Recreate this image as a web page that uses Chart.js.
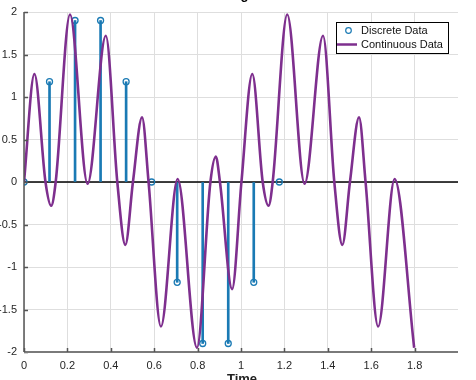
<!DOCTYPE html>
<html>
<head>
<meta charset="utf-8">
<script src="https://cdn.jsdelivr.net/npm/chart.js@4.4.1/dist/chart.umd.min.js"></script>
<style>
  html, body { margin: 0; padding: 0; background: #fff; }
  #wrap { position: relative; width: 476px; height: 380px; overflow: hidden; }
  #wrap canvas { position: absolute; left: 0; top: -14px; }
</style>
</head>
<body>
<div id="wrap"><canvas id="chart" width="476" height="400"></canvas></div>
<script>
'use strict';

const titleText = 'Aliasing Effect';
const xTitle = 'Time';
const seriesNames = ['Discrete Data', 'Continuous Data'];

// discrete samples (stems)
const sampleTimes = [0, 0.1176, 0.2353, 0.3529, 0.4706, 0.5882, 0.7059, 0.8235, 0.9412, 1.0588, 1.1765];
const sampleValues = [0, 1.18, 1.9, 1.9, 1.18, 0, -1.18, -1.9, -1.9, -1.18, 0];

// continuous curve: peaks, troughs and zero crossings
const curveTimes = [0, 0.048, 0.099, 0.125, 0.146, 0.212, 0.293, 0.377, 0.430, 0.467, 0.502, 0.544, 0.574,
    0.631, 0.708, 0.797, 0.859, 0.884, 0.903, 0.959, 1.002, 1.052, 1.100, 1.127, 1.146, 1.213, 1.293,
    1.378, 1.430, 1.467, 1.502, 1.544, 1.574, 1.632, 1.708, 1.798];
const curveValues = [0, 1.27, 0, -0.28, 0, 1.97, -0.02, 1.72, 0, -0.74, 0, 0.76, 0,
    -1.70, 0.035, -1.95, 0, 0.30, 0, -1.26, 0, 1.27, 0, -0.28, 0, 1.97, -0.02,
    1.72, 0, -0.74, 0, 0.76, 0, -1.70, 0.035, -1.95];

const xTicks = [0, 0.2, 0.4, 0.6, 0.8, 1, 1.2, 1.4, 1.6, 1.8];
const yTicks = [-2, -1.5, -1, -0.5, 0, 0.5, 1, 1.5, 2];

const colors = {
    stem: '#1a7ab4',
    curve: '#7e2f8e',
    grid: '#dedede',
    text: '#262626',
    axisLeft: '#555555',
    axisBottom: '#7a7a7a'
};
const fontFamily = "'Liberation Sans', Arial, sans-serif";

const decor = {
    id: 'decor',
    beforeDatasetsDraw(chart) {
        const { ctx, chartArea: a, scales: { y } } = chart;
        const y0 = y.getPixelForValue(0);
        ctx.save();
        ctx.strokeStyle = '#000';
        ctx.lineWidth = 1.3;
        ctx.beginPath();
        ctx.moveTo(a.left, y0);
        ctx.lineTo(a.right, y0);
        ctx.stroke();
        ctx.restore();
    },
    afterDraw(chart) {
        const { ctx, chartArea: a, scales: { x, y } } = chart;
        ctx.save();

        // axes with inward ticks
        ctx.strokeStyle = colors.axisLeft;
        ctx.lineWidth = 1.5;
        ctx.beginPath();
        ctx.moveTo(a.left, a.top);
        ctx.lineTo(a.left, a.bottom);
        yTicks.forEach(v => {
            const py = Math.round(y.getPixelForValue(v)) + 0.5;
            ctx.moveTo(a.left, py);
            ctx.lineTo(a.left + 4, py);
        });
        ctx.stroke();
        ctx.strokeStyle = colors.axisBottom;
        ctx.lineWidth = 2;
        ctx.beginPath();
        ctx.moveTo(a.left, a.bottom);
        ctx.lineTo(a.right, a.bottom);
        ctx.stroke();
        ctx.lineWidth = 1.5;
        ctx.strokeStyle = colors.axisLeft;
        ctx.beginPath();
        xTicks.forEach(v => {
            const px = Math.round(x.getPixelForValue(v)) + 0.5;
            ctx.moveTo(px, a.bottom);
            ctx.lineTo(px, a.bottom - 4);
        });
        ctx.stroke();

        // title (clipped at the top of the page) and x label
        const cx = (a.left + a.right) / 2;
        ctx.fillStyle = '#000';
        ctx.textAlign = 'center';
        ctx.textBaseline = 'alphabetic';
        ctx.font = 'bold 13px ' + fontFamily;
        ctx.fillText(titleText, cx + 2, 13);
        ctx.fillStyle = '#222';
        ctx.fillText(xTitle, cx + 1, 397);

        // legend box inside the plot
        const w = 112, h = 31;
        const lx = a.right - 10 - w, ly = a.top + 10;
        ctx.fillStyle = '#fff';
        ctx.fillRect(lx, ly, w, h);
        ctx.strokeStyle = '#000';
        ctx.lineWidth = 1;
        ctx.strokeRect(Math.round(lx) + 0.5, Math.round(ly) + 0.5, w, h);
        ctx.textAlign = 'left';
        ctx.textBaseline = 'middle';
        ctx.font = '11px ' + fontFamily;
        ctx.fillStyle = '#111';
        ctx.strokeStyle = colors.stem;
        ctx.lineWidth = 1.2;
        ctx.beginPath();
        ctx.arc(lx + 12.5, ly + 8.5, 2.8, 0, Math.PI * 2);
        ctx.stroke();
        ctx.fillText(seriesNames[0], lx + 25, ly + 9);
        ctx.strokeStyle = colors.curve;
        ctx.lineWidth = 2.5;
        ctx.beginPath();
        ctx.moveTo(lx + 1, ly + 22.5);
        ctx.lineTo(lx + 21, ly + 22.5);
        ctx.stroke();
        ctx.fillText(seriesNames[1], lx + 25, ly + 22.5);

        ctx.restore();
    }
};

const samplePoints = sampleTimes.map((t, i) => ({ x: t, y: sampleValues[i] }));
const curvePoints = curveTimes.map((t, i) => ({ x: t, y: curveValues[i] }));

new Chart(document.getElementById('chart').getContext('2d'), {
    type: 'line',
    data: {
        datasets: [{
            type: 'bar',
            label: seriesNames[0],
            data: samplePoints,
            backgroundColor: colors.stem,
            borderWidth: 0,
            barThickness: 2,
            order: 3
        }, {
            type: 'line',
            label: seriesNames[0],
            data: samplePoints,
            showLine: false,
            pointStyle: 'circle',
            pointRadius: 3,
            pointBorderWidth: 1.3,
            pointBorderColor: colors.stem,
            pointBackgroundColor: 'rgba(255,255,255,0)',
            order: 2
        }, {
            type: 'line',
            label: seriesNames[1],
            data: curvePoints,
            borderColor: colors.curve,
            borderWidth: 2.6,
            pointRadius: 0,
            fill: false,
            cubicInterpolationMode: 'monotone',
            order: 1
        }]
    },
    options: {
        responsive: false,
        animation: false,
        layout: { padding: { top: 26, right: 18, left: 0, bottom: 0 } },
        plugins: {
            legend: { display: false },
            title: { display: false },
            tooltip: { enabled: false }
        },
        scales: {
            x: {
                type: 'linear',
                min: 0,
                max: 2,
                offset: false,
                afterBuildTicks: axis => { axis.ticks = xTicks.map(v => ({ value: v })); },
                afterFit: s => { s.height = 34; },
                border: { display: false },
                grid: { color: colors.grid, lineWidth: 1, drawTicks: false, offset: false },
                ticks: {
                    padding: 7,
                    color: colors.text,
                    font: { family: fontFamily, size: 11 },
                    maxRotation: 0,
                    autoSkip: false,
                    callback: v => String(v)
                }
            },
            y: {
                min: -2,
                max: 2,
                afterBuildTicks: axis => { axis.ticks = yTicks.map(v => ({ value: v })); },
                afterFit: s => { s.width = 24; },
                border: { display: false },
                grid: { color: colors.grid, lineWidth: 1, drawTicks: false },
                ticks: {
                    padding: 7,
                    color: colors.text,
                    font: { family: fontFamily, size: 11 },
                    autoSkip: false,
                    callback: v => String(v)
                }
            }
        }
    },
    plugins: [decor]
});
</script>
</body>
</html>
